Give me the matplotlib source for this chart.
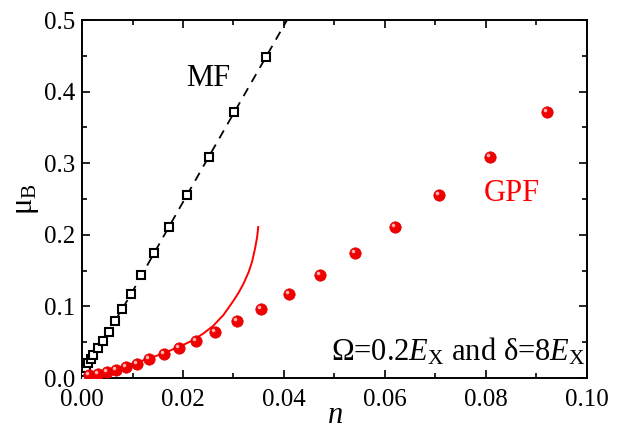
import numpy as np
import matplotlib
matplotlib.use('Agg')
import matplotlib.pyplot as plt
import matplotlib.transforms as mtransforms
from matplotlib.ticker import MultipleLocator

plt.rcParams['font.family'] = ['Liberation Serif', 'DejaVu Serif']
plt.rcParams['mathtext.fontset'] = 'custom'
plt.rcParams['mathtext.rm'] = 'Liberation Serif'
plt.rcParams['mathtext.it'] = 'Liberation Serif:italic'

# ---- mean-field results (open squares + dashed guide) ----
mf_n = [0.0001, 0.0004, 0.0008, 0.0012, 0.0018, 0.0022, 0.0032, 0.0041,
        0.0053, 0.0065, 0.0079, 0.0097, 0.0117, 0.0143, 0.0172, 0.0208,
        0.0251, 0.0301, 0.0364]
mf_mu = [0.003, 0.008, 0.014, 0.021, 0.026, 0.032, 0.042, 0.051,
         0.064, 0.079, 0.096, 0.117, 0.144, 0.175, 0.211, 0.256,
         0.309, 0.372, 0.448]
mf_line_n = [0.0, 0.0041, 0.0097, 0.0172, 0.0251, 0.0364, 0.0406]
mf_line_mu = [0.0, 0.051, 0.117, 0.211, 0.309, 0.448, 0.5]

# ---- GPF results (red spheres) ----
gpf_n = [0.0014, 0.0031, 0.0049, 0.0067, 0.0087, 0.0109, 0.0133, 0.0162,
         0.0192, 0.0226, 0.0264, 0.0307, 0.0354, 0.0410, 0.0471, 0.0541,
         0.0620, 0.0707, 0.0808, 0.0921]
gpf_mu = [0.004, 0.006, 0.008, 0.011, 0.015, 0.020, 0.026, 0.033,
          0.042, 0.051, 0.064, 0.079, 0.096, 0.117, 0.144, 0.175,
          0.211, 0.256, 0.309, 0.372]

# ---- red solid curve ----
curve_n = [0.0, 0.002, 0.005, 0.008, 0.011, 0.014, 0.017, 0.020, 0.022,
           0.024, 0.026, 0.028, 0.030, 0.031, 0.032, 0.033, 0.0337,
           0.0343, 0.0347, 0.0349]
curve_mu = [0.003, 0.007, 0.011, 0.016, 0.022, 0.029, 0.037, 0.046, 0.053,
            0.062, 0.073, 0.088, 0.108, 0.119, 0.132, 0.148, 0.163,
            0.182, 0.198, 0.211]

fig = plt.figure(figsize=(6.18, 4.34), dpi=100)
ax = fig.add_axes([0.1327, 0.129, 0.8171, 0.8249])

ax.plot(mf_line_n, mf_line_mu, color='black', lw=1.3, dashes=(5, 4), zorder=2)
ax.plot(mf_n, mf_mu, ls='none', marker='s', ms=5.8, mfc='white',
        mec='black', mew=1.5, zorder=3)

ax.plot(curve_n, curve_mu, color='#ff0000', lw=1.4, zorder=2)

# spheres: red disc plus a small highlight shifted up-left
ax.plot(gpf_n, gpf_mu, ls='none', marker='o', ms=8.2, mfc='#f00000',
        mec='#e00000', mew=0.5, zorder=4)
shift = mtransforms.ScaledTranslation(-1.5 / 72, 1.5 / 72, fig.dpi_scale_trans)
ax.plot(gpf_n, gpf_mu, ls='none', marker='o', ms=2.6, mfc='#ffb0b0',
        mec='none', transform=ax.transData + shift, zorder=5)

ax.set_xlim(0, 0.10)
ax.set_ylim(0, 0.5)
ax.xaxis.set_major_locator(MultipleLocator(0.02))
ax.xaxis.set_minor_locator(MultipleLocator(0.01))
ax.yaxis.set_major_locator(MultipleLocator(0.1))
ax.yaxis.set_minor_locator(MultipleLocator(0.05))
ax.xaxis.set_major_formatter(plt.FormatStrFormatter('%.2f'))
ax.yaxis.set_major_formatter(plt.FormatStrFormatter('%.1f'))
ax.tick_params(which='both', direction='in', top=True, right=True,
               labelsize=18, width=1.2)
ax.tick_params(which='major', length=6)
ax.tick_params(which='minor', length=3.5)
ax.tick_params(axis='x', pad=8)
ax.tick_params(axis='y', pad=5)
for sp in ax.spines.values():
    sp.set_linewidth(1.4)

# lift the "0.0" label a little so it clears "0.00" below it
fig.canvas.draw()
lift = mtransforms.ScaledTranslation(0, 4 / 72, fig.dpi_scale_trans)
first = ax.yaxis.get_major_ticks()[0].label1
first.set_transform(first.get_transform() + lift)

ax.set_xlabel('$n$', fontsize=22, labelpad=-7)
ax.set_ylabel('μ$_\\mathrm{B}$', fontsize=22, labelpad=2)

ax.text(0.0250, 0.419, 'MF', fontsize=22, color='black', ha='center', va='center')
ax.text(0.0851, 0.258, 'GPF', fontsize=22, color='#ff0000', ha='center', va='center')
ax.text(0.0998, 0.037, 'Ω=0.2$E_\\mathrm{X}$ and δ=8$E_\\mathrm{X}$',
        fontsize=22, ha='right', va='center')

fig.savefig('out.png', dpi=100)
